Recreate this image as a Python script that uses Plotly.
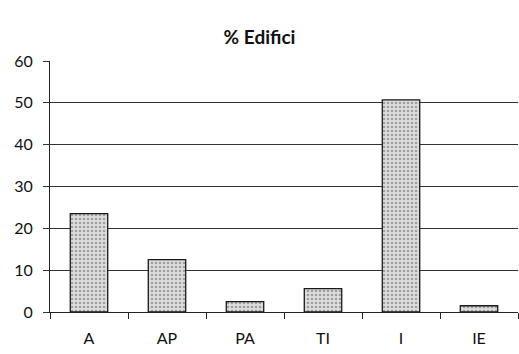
import plotly.graph_objects as go

# Share of buildings by category
categories = ["A", "AP", "PA", "TI", "I", "IE"]
percent = [23.5, 12.5, 2.5, 5.6, 50.7, 1.5]
y_ticks = [0, 10, 20, 30, 40, 50, 60]

font_family = "Lato, 'Open Sans', sans-serif"

fig = go.Figure(
    go.Bar(
        x=categories,
        y=percent,
        marker=dict(
            color="#d2d2d2",
            line=dict(color="#1a1a1a", width=1.3),
            pattern=dict(shape=".", fgcolor="#5e5e5e", bgcolor="#dedede",
                         size=4, solidity=0.35),
        ),
        showlegend=False,
    )
)

fig.update_layout(
    width=519,
    height=354,
    margin=dict(l=50, r=1, t=61, b=42),
    paper_bgcolor="white",
    plot_bgcolor="white",
    bargap=0.52,
    title=dict(
        text="<b>% Edifici</b>",
        x=0.5, xanchor="center",
        y=1 - 37 / 354, yanchor="middle",
        font=dict(family=font_family, size=19, color="#111111"),
    ),
    font=dict(family=font_family, size=16, color="#111111"),
)

fig.update_xaxes(
    type="category",
    showline=True, linecolor="#222222", linewidth=1,
    ticks="outside", tickson="boundaries", ticklen=6, tickcolor="#222222",
    ticklabelstandoff=12,
    tickfont=dict(size=16),
    showgrid=False,
)
fig.update_yaxes(
    range=[0, 60],
    tickvals=y_ticks,
    showline=True, linecolor="#222222", linewidth=1,
    showgrid=True, gridcolor="#333333", gridwidth=1,
    zeroline=False,
    ticks="outside", ticklen=6, tickcolor="#333333",
    ticklabelstandoff=7,
    tickfont=dict(size=16),
)

fig.write_html("out.html")
